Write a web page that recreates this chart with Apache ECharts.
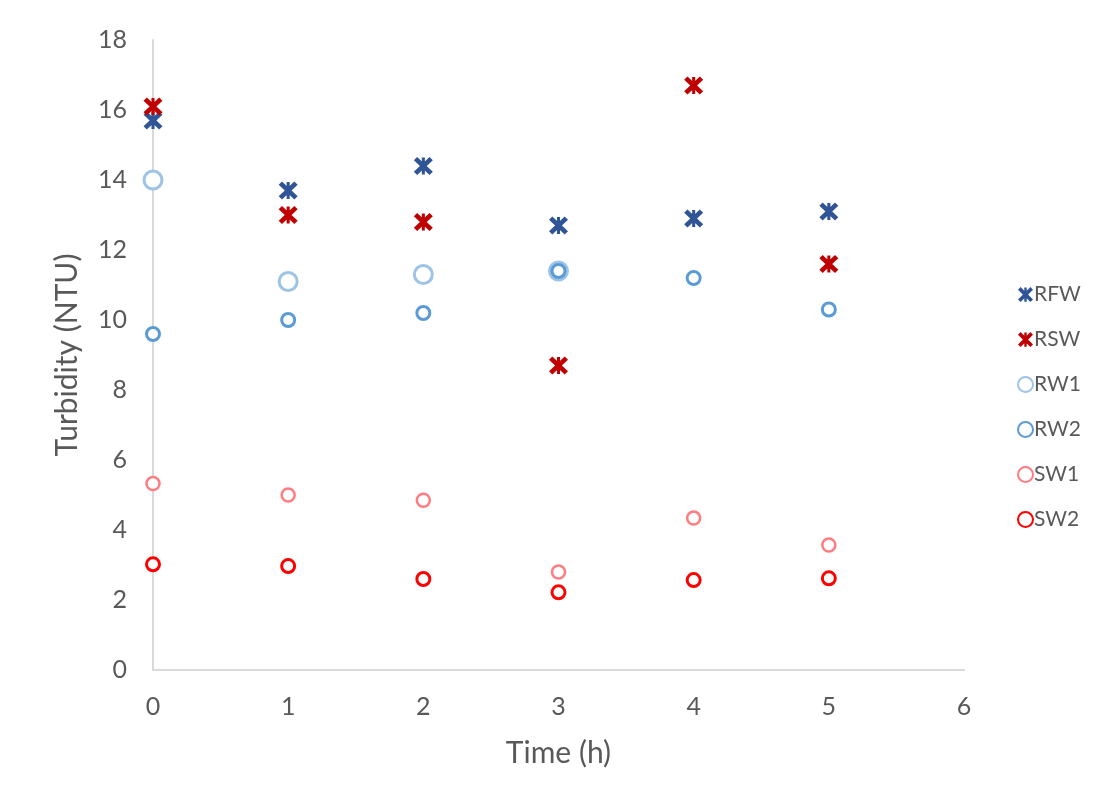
<!DOCTYPE html>
<html>
<head>
<meta charset="utf-8">
<script src="https://cdn.jsdelivr.net/npm/echarts@6/dist/echarts.min.js"></script>
<style>
html,body{margin:0;padding:0;background:#fff;}
#c{width:1103px;height:799px;}
</style>
</head>
<body>
<div id="c"></div>
<script>
var times = [0, 1, 2, 3, 4, 5];
var RFW = [15.7, 13.7, 14.4, 12.7, 12.9, 13.1];
var RSW = [16.1, 13.0, 12.8, 8.7, 16.7, 11.6];
var RW1 = [14.0, 11.1, 11.3, 11.4];
var RW2 = [9.6, 10.0, 10.2, 11.4, 11.2, 10.3];
var SW1 = [5.33, 5.0, 4.85, 2.8, 4.34, 3.57];
var SW2 = [3.02, 2.97, 2.6, 2.22, 2.57, 2.62];
var xTicks = [0, 1, 2, 3, 4, 5, 6];
var yTicks = [0, 2, 4, 6, 8, 10, 12, 14, 16, 18];

function pairs(vals){ return vals.map(function(v,i){ return [times[i], v]; }); }

var STAR = 'path://M0,3.5 L3.5,0 L20,16.5 L16.5,20 Z M16.5,0 L20,3.5 L3.5,20 L0,16.5 Z M8.4,0.5 L11.6,0.5 L11.6,19.5 L8.4,19.5 Z';
var FONT = 'Lato, Open Sans, sans-serif';

function starSeries(name, vals, color){
  return {name:name, type:'scatter', data:pairs(vals), symbol:STAR, symbolSize:[19,18],
    itemStyle:{color:color, opacity:1}};
}
function ringSeries(name, vals, color, size, bw){
  return {name:name, type:'scatter', data:pairs(vals), symbol:'circle', symbolSize:size,
    itemStyle:{color:'#ffffff', borderColor:color, borderWidth:bw, opacity:1}};
}

var chart = echarts.init(document.getElementById('c'));
chart.setOption({
  animation:false,
  backgroundColor:'#ffffff',
  textStyle:{fontFamily:FONT},
  grid:{left:153, right:139, top:40, bottom:129},
  legend:{
    orient:'vertical', left:1012, top:279, itemGap:24, itemWidth:15, itemHeight:15,
    textStyle:{color:'#595959', fontSize:21, fontFamily:FONT, padding:[0,0,0,-4]},
    data:['RFW','RSW','RW1','RW2','SW1','SW2']
  },
  xAxis:{
    type:'value', min:xTicks[0], max:xTicks[xTicks.length-1], interval:1,
    name:'Time (h)', nameLocation:'middle', nameGap:68,
    nameTextStyle:{color:'#595959', fontSize:30, fontFamily:FONT},
    axisLine:{show:true, lineStyle:{color:'#D9D9D9', width:2}},
    axisTick:{show:false}, splitLine:{show:false},
    axisLabel:{color:'#595959', fontSize:25, margin:24, fontFamily:FONT}
  },
  yAxis:{
    type:'value', min:yTicks[0], max:yTicks[yTicks.length-1], interval:2,
    name:'Turbidity (NTU)', nameLocation:'middle', nameGap:71,
    nameTextStyle:{color:'#595959', fontSize:30, fontFamily:FONT},
    axisLine:{show:true, lineStyle:{color:'#D9D9D9', width:2}},
    axisTick:{show:false}, splitLine:{show:false},
    axisLabel:{color:'#595959', fontSize:25, margin:26, fontFamily:FONT}
  },
  series:[
    starSeries('RFW', RFW, '#2F5597'),
    starSeries('RSW', RSW, '#C00000'),
    ringSeries('RW1', RW1, '#9DC3E6', 18, 3),
    ringSeries('RW2', RW2, '#5B9BD5', 13, 3),
    ringSeries('SW1', SW1, '#FF7C80', 13, 2.5),
    ringSeries('SW2', SW2, '#FF0000', 13, 3)
  ]
});
</script>
</body>
</html>
